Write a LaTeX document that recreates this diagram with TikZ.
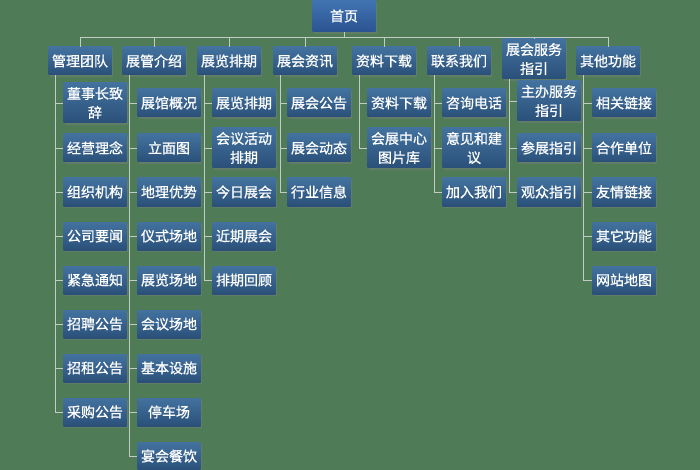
\documentclass[tikz,border=0pt]{standalone}
\usepackage{fontspec}
\newfontfamily\cjk[FakeBold=0.8]{Noto Sans CJK SC}
\usetikzlibrary{shadows}
\definecolor{bg}{HTML}{4F7C57}
\definecolor{boxtop}{HTML}{43729F}
\definecolor{boxbot}{HTML}{2A5079}
\definecolor{toptop}{HTML}{4274B2}
\definecolor{topbot}{HTML}{2B5391}
\definecolor{wire}{HTML}{C3CCC3}
\tikzset{
  menu/.style={top color=boxtop, bottom color=boxbot, text=white, align=center,
    minimum width=63pt, minimum height=28pt, inner sep=1pt,
    font=\cjk\fontsize{14}{19}\selectfont,
    drop shadow={opacity=0.4, shadow xshift=1pt, shadow yshift=-2pt}},
}
\begin{document}
\begin{tikzpicture}[x=1pt, y=-1pt, wire, line width=0.8pt]
        \fill[bg] (0,0) rectangle (700,470);
        \useasboundingbox (0,0) rectangle (700,470);

        \node[menu, minimum height=32pt, top color=toptop, bottom color=topbot] (top) at (344,16) {首页};
        \node[menu] (m1) at (80,61) {管理团队};
        \node[menu] (m2) at (154,61) {展管介绍};
        \node[menu] (m3) at (229,61) {展览排期};
        \node[menu] (m4) at (305,61) {展会资讯};
        \node[menu] (m5) at (384,61) {资料下载};
        \node[menu] (m6) at (459,61) {联系我们};
        \node[menu, minimum height=40pt] (m7) at (534,59) {展会服务\\指引};
        \node[menu] (m8) at (608,61) {其他功能};

        % 管理团队
        \node[menu, minimum height=40pt] (m11) at (95,103) {董事长致\\辞};
        \node[menu] (m12) at (95,148) {经营理念};
        \node[menu] (m13) at (95,192) {组织机构};
        \node[menu] (m14) at (95,236) {公司要闻};
        \node[menu] (m15) at (95,280) {紧急通知};
        \node[menu] (m16) at (95,324) {招聘公告};
        \node[menu] (m17) at (95,368) {招租公告};
        \node[menu] (m18) at (95,412) {采购公告};
        % 展管介绍
        \node[menu] (m21) at (169,103) {展馆概况};
        \node[menu] (m22) at (169,148) {立面图};
        \node[menu] (m23) at (169,192) {地理优势};
        \node[menu] (m24) at (169,236) {仪式场地};
        \node[menu] (m25) at (169,280) {展览场地};
        \node[menu] (m26) at (169,324) {会议场地};
        \node[menu] (m27) at (169,368) {基本设施};
        \node[menu] (m28) at (169,412) {停车场};
        \node[menu] (m29) at (169,456) {宴会餐饮};
        % 展览排期
        \node[menu] (m31) at (244,103) {展览排期};
        \node[menu, minimum height=40pt] (m32) at (244,148) {会议活动\\排期};
        \node[menu] (m33) at (244,192) {今日展会};
        \node[menu] (m34) at (244,236) {近期展会};
        \node[menu] (m35) at (244,280) {排期回顾};
        % 展会资讯
        \node[menu] (m41) at (319,103) {展会公告};
        \node[menu] (m42) at (319,148) {展会动态};
        \node[menu] (m43) at (319,192) {行业信息};
        % 资料下载
        \node[menu] (m51) at (399,103) {资料下载};
        \node[menu, minimum height=40pt] (m52) at (399,148) {会展中心\\图片库};
        % 联系我们
        \node[menu] (m61) at (474,103) {咨询电话};
        \node[menu, minimum height=40pt] (m62) at (474,148) {意见和建\\议};
        \node[menu] (m63) at (474,192) {加入我们};
        % 展会服务指引
        \node[menu, minimum height=40pt] (m71) at (549,101) {主办服务\\指引};
        \node[menu] (m72) at (549,148) {参展指引};
        \node[menu] (m73) at (549,192) {观众指引};
        % 其他功能
        \node[menu] (m81) at (624,103) {相关链接};
        \node[menu] (m82) at (624,148) {合作单位};
        \node[menu] (m83) at (624,192) {友情链接};
        \node[menu] (m84) at (624,236) {其它功能};
        \node[menu] (m85) at (624,280) {网站地图};

        \draw (top.south) -- ++(0,5) -| (m1.north);
        \draw (top.south) -- ++(0,5) -| (m2.north);
        \draw (top.south) -- ++(0,5) -| (m3.north);
        \draw (top.south) -- ++(0,5) -| (m4.north);
        \draw (top.south) -- ++(0,5) -| (m5.north);
        \draw (top.south) -- ++(0,5) -| (m6.north);
        \draw (top.south) -- ++(0,5) -| (m7.north);
        \draw (top.south) -- ++(0,5) -| (m8.north);

        \draw ([xshift=7]m1.south west) |- (m11.west);
        \draw ([xshift=7]m1.south west) |- (m12.west);
        \draw ([xshift=7]m1.south west) |- (m13.west);
        \draw ([xshift=7]m1.south west) |- (m14.west);
        \draw ([xshift=7]m1.south west) |- (m15.west);
        \draw ([xshift=7]m1.south west) |- (m16.west);
        \draw ([xshift=7]m1.south west) |- (m17.west);
        \draw ([xshift=7]m1.south west) |- (m18.west);

        \draw ([xshift=7]m2.south west) |- (m21.west);
        \draw ([xshift=7]m2.south west) |- (m22.west);
        \draw ([xshift=7]m2.south west) |- (m23.west);
        \draw ([xshift=7]m2.south west) |- (m24.west);
        \draw ([xshift=7]m2.south west) |- (m25.west);
        \draw ([xshift=7]m2.south west) |- (m26.west);
        \draw ([xshift=7]m2.south west) |- (m27.west);
        \draw ([xshift=7]m2.south west) |- (m28.west);
        \draw ([xshift=7]m2.south west) |- (m29.west);

        \draw ([xshift=7]m3.south west) |- (m31.west);
        \draw ([xshift=7]m3.south west) |- (m32.west);
        \draw ([xshift=7]m3.south west) |- (m33.west);
        \draw ([xshift=7]m3.south west) |- (m34.west);
        \draw ([xshift=7]m3.south west) |- (m35.west);

        \draw ([xshift=7]m4.south west) |- (m41.west);
        \draw ([xshift=7]m4.south west) |- (m42.west);
        \draw ([xshift=7]m4.south west) |- (m43.west);

        \draw ([xshift=7]m5.south west) |- (m51.west);
        \draw ([xshift=7]m5.south west) |- (m52.west);

        \draw ([xshift=7]m6.south west) |- (m61.west);
        \draw ([xshift=7]m6.south west) |- (m62.west);
        \draw ([xshift=7]m6.south west) |- (m63.west);

        \draw ([xshift=7]m7.south west) |- (m71.west);
        \draw ([xshift=7]m7.south west) |- (m72.west);
        \draw ([xshift=7]m7.south west) |- (m73.west);

        \draw ([xshift=7]m8.south west) |- (m81.west);
        \draw ([xshift=7]m8.south west) |- (m82.west);
        \draw ([xshift=7]m8.south west) |- (m83.west);
        \draw ([xshift=7]m8.south west) |- (m84.west);
        \draw ([xshift=7]m8.south west) |- (m85.west);

      \end{tikzpicture}
\end{document}
